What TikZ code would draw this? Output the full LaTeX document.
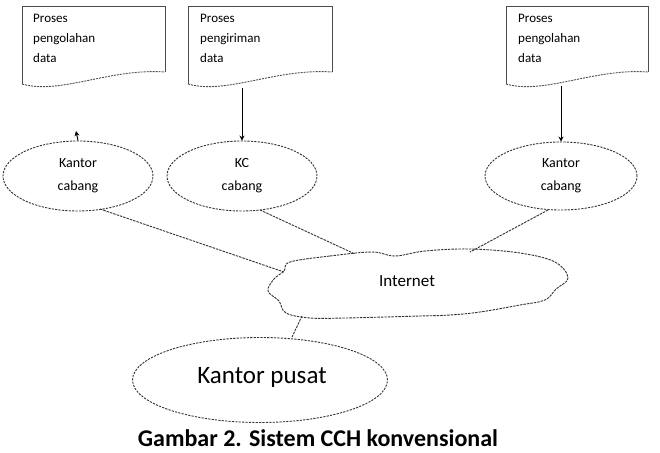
\documentclass[tikz,border=0pt]{standalone}
\usepackage{fontspec}
\setmainfont{Carlito}
\usetikzlibrary{shapes.geometric,arrows.meta}
\tikzset{
  docline/.style={draw=black!70, line width=0.9pt},
  doctext/.style={anchor=north west, align=left, font=\fontsize{13}{20}\selectfont, inner sep=0pt},
  office/.style={ellipse, draw=black!80, dash pattern=on 2.2pt off 1.2pt, line width=0.9pt, align=center, font=\fontsize{14}{23}\selectfont, inner sep=0pt},
  link/.style={draw=black!80, dash pattern=on 2.5pt off 1pt, line width=0.9pt},
  feed/.style={draw=black, line width=1pt, -{Stealth[length=5pt,width=5pt]}},
}
\begin{document}
\begin{tikzpicture}[x=1pt,y=-1pt]
\useasboundingbox (0,0) rectangle (660,452);
% documents
\draw[docline] (22,84) -- (22,6) -- (165,6) -- (165,72);
\draw[docline, dash pattern=on 2pt off 1pt] (22,84) .. controls (60,95) and (110,68) .. (165,72);
\node[doctext] (d1) at (33,14) {Proses\\pengolahan\\data};
\draw[docline] (188,84) -- (188,6) -- (332,6) -- (332,72);
\draw[docline, dash pattern=on 2pt off 1pt] (188,84) .. controls (226,95) and (276,68) .. (332,72);
\node[doctext] (d2) at (200,14) {Proses\\pengiriman\\data};
\draw[docline] (506,84) -- (506,6) -- (648,6) -- (648,72);
\draw[docline, dash pattern=on 2pt off 1pt] (506,84) .. controls (544,95) and (594,68) .. (648,72);
\node[doctext] (d3) at (518,14) {Proses\\pengolahan\\data};
\coordinate (b2) at (242,88);
\coordinate (b3) at (561,86);
% branch offices
\node[office, minimum width=150pt, minimum height=70pt] (k1) at (78,176) {Kantor\\cabang};
\node[office, minimum width=150pt, minimum height=70pt] (k2) at (242,176) {KC\\cabang};
\node[office, minimum width=152pt, minimum height=68pt] (k3) at (561,176) {Kantor\\cabang};
\coordinate (up1) at (76,131);
\draw[feed] (k1.north) -- (up1);
\draw[feed] (b2) -- (k2.north);
\draw[feed] (b3) -- (k3.north);
% internet cloud
\draw[draw=black!80, dash pattern=on 2.5pt off 1pt, line width=0.9pt]
  plot[smooth cycle, tension=0.6] coordinates {(290,262) (330,256) (372,252) (395,256) (425,251) (470,249) (520,253) (555,262) (568,278) (556,289) (545,300) (520,305) (480,312) (450,315) (420,316) (385,317) (345,318) (310,318) (286,313) (279,301) (268,291) (274,279) (284,271)};
\node[font=\fontsize{17}{19}\selectfont, inner sep=1pt] (net) at (407,281) {Internet};
\coordinate (netl) at (284,272);
\coordinate (netm) at (355,254);
\coordinate (netr) at (470,252);
\coordinate (netb) at (302,316);
% head office
\node[ellipse, draw=black!80, dash pattern=on 2.2pt off 1.2pt, line width=0.9pt, minimum width=255pt, minimum height=85pt] (pusat) at (260,380) {};
\node[anchor=base, font=\fontsize{25}{27}\selectfont, inner sep=0pt] (pusattext) at (262,383) {Kantor pusat};
% links
\coordinate (s1) at (100,209);
\coordinate (s2) at (260,210);
\coordinate (s3) at (548,210);
\draw[link] (s1) -- (netl);
\draw[link] (s2) -- (netm);
\draw[link] (s3) -- (netr);
\draw[link] (netb) -- (pusat.north -| 292,0);
% caption
\node[anchor=base, font=\fontsize{24}{26}\selectfont\bfseries, inner sep=0pt] (cap) at (318,446) {Gambar 2. Sistem CCH konvensional};
\end{tikzpicture}
\end{document}
